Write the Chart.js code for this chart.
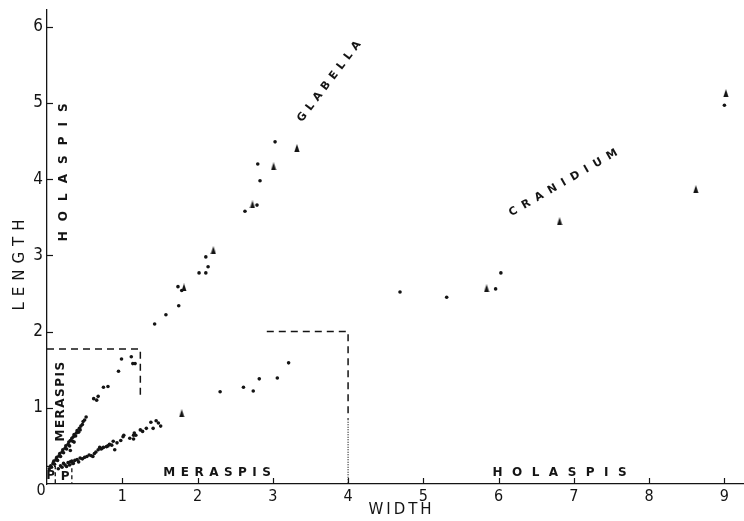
<!DOCTYPE html>
<html>
<head>
<meta charset="utf-8">
<script src="https://cdn.jsdelivr.net/npm/chart.js@4"></script>
<style>
  html, body { margin: 0; padding: 0; background: #fff; overflow: hidden; }
  #wrap { width: 744px; height: 521px; }
  #c { display: block; }
</style>
</head>
<body>
<div id="wrap"><canvas id="c" width="744" height="521"></canvas></div>
<script>
// Measurements as [width, length] pairs (mm)

// Meraspid glabellae
const meraspisGlabella = [
  [0.03,0.20],[0.05,0.24],[0.06,0.22],[0.08,0.27],[0.09,0.30],[0.10,0.26],[0.12,0.32],
  [0.13,0.35],[0.14,0.31],[0.16,0.37],[0.17,0.40],[0.18,0.36],[0.20,0.42],[0.21,0.45],
  [0.22,0.41],[0.24,0.47],[0.25,0.50],[0.26,0.46],[0.28,0.52],[0.29,0.55],[0.30,0.50],
  [0.31,0.57],[0.33,0.60],[0.34,0.56],[0.35,0.62],[0.36,0.65],[0.38,0.63],[0.39,0.67],
  [0.40,0.70],[0.42,0.68],[0.43,0.73],[0.44,0.71],[0.45,0.76],[0.47,0.78],[0.48,0.82],
  [0.50,0.84],[0.52,0.88],[0.31,0.44],[0.36,0.55],
  [0.62,1.12],[0.66,1.10],[0.68,1.15],[0.75,1.27],[0.81,1.28],[0.95,1.48],[0.99,1.64],
  [1.12,1.67],[1.14,1.58],[1.17,1.58]
];

// Meraspid cranidia
const meraspisCranidium = [
  [0.15,0.20],[0.18,0.24],[0.20,0.22],[0.22,0.27],[0.24,0.25],[0.26,0.23],[0.28,0.28],
  [0.30,0.25],[0.31,0.29],[0.33,0.30],[0.35,0.27],[0.37,0.31],[0.40,0.32],[0.42,0.29],
  [0.44,0.34],[0.47,0.33],[0.50,0.35],[0.53,0.36],[0.56,0.38],[0.59,0.37],[0.61,0.36],
  [0.63,0.40],[0.65,0.42],[0.68,0.45],[0.70,0.48],[0.72,0.46],[0.73,0.47],[0.75,0.48],
  [0.79,0.49],[0.81,0.50],[0.83,0.52],[0.86,0.51],[0.88,0.56],[0.90,0.45],[0.93,0.54],
  [0.98,0.57],[1.01,0.62],[1.02,0.64],[1.10,0.60],[1.15,0.59],[1.15,0.64],[1.16,0.67],
  [1.18,0.64],[1.24,0.71],[1.27,0.69],[1.32,0.73],[1.38,0.81],[1.41,0.73],[1.45,0.83],
  [1.48,0.80],[1.51,0.76]
];
const meraspisCranidiumTri = [[1.79,0.93]];

// Holaspid glabellae
const holaspisGlabella = [
  [1.43,2.10],[1.58,2.22],[1.75,2.34],[1.74,2.59],[1.79,2.54],[2.02,2.77],[2.11,2.77],
  [2.14,2.85],[2.11,2.98],[2.63,3.58],[2.79,3.66],[2.83,3.98],[2.80,4.20],[3.03,4.49]
];
const holaspisGlabellaTri = [[1.82,2.58],[2.21,3.07],[2.73,3.67],[3.01,4.17],[3.32,4.41]];

// Holaspid cranidia
const holaspisCranidium = [
  [2.30,1.21],[2.61,1.27],[2.74,1.22],[2.82,1.38],[3.06,1.39],[3.21,1.59],
  [4.69,2.52],[5.31,2.45],[5.96,2.56],[6.03,2.77],[9.00,4.97]
];
const holaspisCranidiumTri = [[5.84,2.57],[6.81,3.45],[8.62,3.87],[9.02,5.13]];

// Stage limits
const glabellaLimit = [[0,1.77],[1.24,1.77],[1.24,1.12]];
const cranidiumLimit = [[2.92,2.0],[4.0,2.0],[4.0,0.85]];
const cranidiumLimitDotted = [[4.0,0.85],[4.0,0]];
const protaspisLimitA = [[0,0.23],[0.11,0.23],[0.11,0]];
const protaspisLimitB = [[0.33,0.30],[0.33,0]];

const xTicks = [1,2,3,4,5,6,7,8,9];
const yTicks = [1,2,3,4,5,6];

const INK = '#141414';
const FONT = '"Liberation Sans Narrow", "DejaVu Sans Condensed", "Liberation Sans", sans-serif';
const LABEL_FONT = '"DejaVu Sans", "Liberation Sans", sans-serif';

const pts = a => a.map(([x, y]) => ({ x, y }));

// narrow filled triangle marker
const tri = document.createElement('canvas');
tri.width = 6; tri.height = 8;
(() => {
  const g = tri.getContext('2d');
  g.fillStyle = INK;
  g.beginPath(); g.moveTo(3, 0); g.lineTo(5.6, 8); g.lineTo(0.4, 8); g.closePath(); g.fill();
})();

const dotSet = (data) => ({
  type: 'scatter', data: pts(data), pointStyle: 'circle', pointRadius: 1.8,
  backgroundColor: INK, borderColor: INK, borderWidth: 0, showLine: false
});
const triSet = (data) => ({
  type: 'scatter', data: pts(data), pointStyle: tri, pointRadius: 4,
  backgroundColor: INK, borderColor: INK, showLine: false
});
const limitSet = (data, dash, w) => ({
  type: 'line', data: pts(data), borderColor: INK, borderWidth: w,
  borderDash: dash, pointRadius: 0, fill: false, tension: 0
});

function spaced(ctx, text, x, y, angle, size, spacing, font, weight) {
  ctx.save();
  ctx.translate(x, y);
  ctx.rotate(angle);
  ctx.font = `${weight || 'normal'} ${size}px ${font}`;
  ctx.fillStyle = INK;
  ctx.textBaseline = 'middle';
  ctx.textAlign = 'left';
  const ws = [...text].map(c => ctx.measureText(c).width);
  const total = ws.reduce((a, b) => a + b, 0) + spacing * (text.length - 1);
  let cx = -total / 2;
  [...text].forEach((c, i) => { ctx.fillText(c, cx, 0); cx += ws[i] + spacing; });
  ctx.restore();
}

const decor = {
  id: 'decor',
  afterDraw(chart) {
    const { ctx, scales: { x, y } } = chart;
    const x0 = x.getPixelForValue(0), y0 = y.getPixelForValue(0);
    ctx.save();
    ctx.strokeStyle = INK; ctx.lineWidth = 1.2;
    // inward tick marks
    xTicks.forEach(v => {
      const px = Math.round(x.getPixelForValue(v)) + 0.5;
      ctx.beginPath(); ctx.moveTo(px, y0); ctx.lineTo(px, y0 - 6); ctx.stroke();
    });
    yTicks.forEach(v => {
      const py = Math.round(y.getPixelForValue(v)) + 0.5;
      ctx.beginPath(); ctx.moveTo(x0, py); ctx.lineTo(x0 + 6, py); ctx.stroke();
    });
    // shared origin label
    ctx.font = `16px ${FONT}`; ctx.fillStyle = INK;
    ctx.textAlign = 'center'; ctx.textBaseline = 'middle';
    ctx.fillText('0', x0 - 6, y0 + 7);
    ctx.restore();

    const at = (vx, vy) => [x.getPixelForValue(vx), y.getPixelForValue(vy)];
    const B = 'bold';
    // axis titles
    spaced(ctx, 'WIDTH', 400, 510, 0, 15, 3, LABEL_FONT);
    spaced(ctx, 'LENGTH', 20, 265, -Math.PI / 2, 15, 6, LABEL_FONT);
    // stage and series labels
    let p;
    p = at(0.22, 4.09); spaced(ctx, 'HOLASPIS', p[0], p[1], -Math.PI / 2, 12, 10, LABEL_FONT, B);
    p = at(0.19, 1.08); spaced(ctx, 'MERASPIS', p[0], p[1], -Math.PI / 2, 12, 1.5, LABEL_FONT, B);
    p = at(2.26, 0.15); spaced(ctx, 'MERASPIS', p[0], p[1], 0, 12, 5.5, LABEL_FONT, B);
    p = at(6.81, 0.15); spaced(ctx, 'HOLASPIS', p[0], p[1], 0, 12, 9.5, LABEL_FONT, B);
    p = at(3.75, 5.28); spaced(ctx, 'GLABELLA', p[0], p[1], -53 * Math.PI / 180, 11, 5, LABEL_FONT, B);
    p = at(6.86, 3.95); spaced(ctx, 'CRANIDIUM', p[0], p[1], -30 * Math.PI / 180, 11, 6.5, LABEL_FONT, B);
    p = at(0.05, 0.11); spaced(ctx, 'P', p[0], p[1], 0, 12, 0, LABEL_FONT, B);
    p = at(0.24, 0.10); spaced(ctx, 'P', p[0], p[1], 0, 12, 0, LABEL_FONT, B);
  }
};

new Chart(document.getElementById('c'), {
  data: {
    datasets: [
      limitSet(glabellaLimit, [7, 5], 1.5),
      limitSet(cranidiumLimit, [7, 5], 1.5),
      limitSet(cranidiumLimitDotted, [1, 1.5], 1.2),
      limitSet(protaspisLimitA, [4, 3], 1.3),
      limitSet(protaspisLimitB, [4, 3], 1.3),
      dotSet(meraspisGlabella),
      dotSet(meraspisCranidium),
      triSet(meraspisCranidiumTri),
      dotSet(holaspisGlabella),
      triSet(holaspisGlabellaTri),
      dotSet(holaspisCranidium),
      triSet(holaspisCranidiumTri)
    ]
  },
  options: {
    responsive: false,
    devicePixelRatio: 1,
    animation: false,
    layout: { autoPadding: false, padding: { top: 10, right: 0, left: 0, bottom: 0 } },
    plugins: { legend: { display: false }, tooltip: { enabled: false } },
    scales: {
      x: {
        type: 'linear', min: 0, max: 9.26,
        afterFit: s => { s.height = 37; s.paddingLeft = 0; s.paddingRight = 0; },
        afterBuildTicks: s => { s.ticks = xTicks.map(v => ({ value: v })); },
        border: { display: true, color: INK, width: 1.3 },
        grid: { display: false, drawTicks: false },
        ticks: { color: INK, font: { family: FONT, size: 16 }, padding: 3, maxRotation: 0, autoSkip: false }
      },
      y: {
        type: 'linear', min: 0, max: 6.22,
        afterFit: s => { s.width = 47; s.paddingTop = 0; s.paddingBottom = 0; },
        afterBuildTicks: s => { s.ticks = yTicks.map(v => ({ value: v })); },
        border: { display: true, color: INK, width: 1.3 },
        grid: { display: false, drawTicks: false },
        ticks: { color: INK, font: { family: FONT, size: 17 }, padding: 4, autoSkip: false }
      }
    }
  },
  plugins: [decor]
});
</script>
</body>
</html>
